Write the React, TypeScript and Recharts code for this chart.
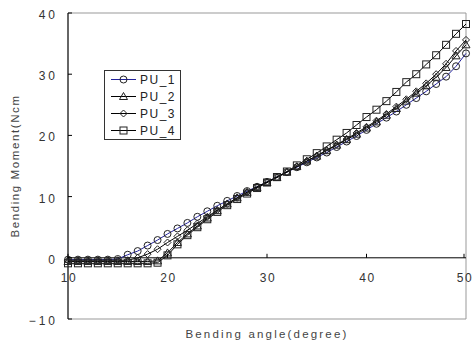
import { LineChart, Line, XAxis, YAxis, Legend, ReferenceLine, ReferenceArea } from "recharts";

const angles = [
  10, 11, 12, 13, 14, 15, 16, 17, 18, 19, 20, 21, 22, 23, 24, 25, 26, 27, 28, 29, 30,
  31, 32, 33, 34, 35, 36, 37, 38, 39, 40, 41, 42, 43, 44, 45, 46, 47, 48, 49, 50,
];

const pu1 = [
  -0.3, -0.3, -0.3, -0.3, -0.3, -0.2, 0.5, 1.1, 2.0, 2.9, 3.9, 4.8, 5.7, 6.7, 7.6, 8.5, 9.3, 10.1, 10.9, 11.6, 12.4,
  13.2, 14.0, 14.8, 15.6, 16.4, 17.2, 18.1, 19.0, 19.9, 20.9, 21.9, 22.9, 23.9, 25.0, 26.1, 27.2, 28.4, 29.6, 31.3, 33.4,
];
const pu2 = [
  -0.6, -0.6, -0.6, -0.6, -0.6, -0.6, -0.6, -0.6, -0.6, -0.5, 0.8, 2.5, 3.9, 5.2, 6.5, 7.7, 8.8, 9.8, 10.7, 11.5, 12.3,
  13.1, 14.0, 14.9, 15.8, 16.6, 17.5, 18.4, 19.3, 20.2, 21.2, 22.2, 23.3, 24.4, 25.6, 26.9, 28.1, 29.5, 31.1, 33.0, 34.8,
];
const pu3 = [
  -0.4, -0.4, -0.4, -0.4, -0.4, -0.4, -0.4, 0.0, 0.6, 1.4, 2.5, 3.5, 4.5, 5.6, 6.7, 7.8, 8.8, 9.8, 10.7, 11.6, 12.4,
  13.2, 14.0, 14.9, 15.8, 16.7, 17.6, 18.5, 19.4, 20.4, 21.4, 22.4, 23.5, 24.7, 25.9, 27.2, 28.5, 30.0, 31.7, 33.8, 35.6,
];
const pu4 = [
  -0.9, -0.9, -0.9, -0.9, -0.9, -0.9, -0.9, -0.9, -0.9, -0.8, 0.4, 2.2, 3.7, 5.0, 6.3, 7.5, 8.6, 9.6, 10.5, 11.4, 12.3,
  13.2, 14.1, 15.1, 16.1, 17.1, 18.2, 19.3, 20.4, 21.7, 23.0, 24.2, 25.6, 27.1, 28.7, 30.0, 31.6, 33.1, 34.8, 36.6, 38.2,
];

const xTicks = [10, 20, 30, 40, 50];
const yTicks = [-10, 0, 10, 20, 30, 40];

const Y_MIN = -10;
const Y_MAX = 40;
const CHART_W = 472;
const CHART_H = 342;
const TOP = 13;
const X_AXIS_H = 23;
const PLOT_H = CHART_H - TOP - X_AXIS_H;
const ZERO_UP = (PLOT_H * (0 - Y_MIN)) / (Y_MAX - Y_MIN);

const FONT = "'Liberation Sans', Arial, sans-serif";

const rows = angles.map((a, i) => ({
  angle: a,
  PU_1: pu1[i],
  PU_2: pu2[i],
  PU_3: pu3[i],
  PU_4: pu4[i],
}));

const shapes: Record<string, string> = {
  PU_1: "circle",
  PU_2: "triangle",
  PU_3: "diamond",
  PU_4: "square",
};

function Marker({ shape, cx, cy }: any) {
  const s = "#222";
  if (shape === "circle") return <circle cx={cx} cy={cy} r={3.5} fill="none" stroke={s} />;
  if (shape === "triangle")
    return (
      <polygon
        points={`${cx},${cy - 4} ${cx - 4},${cy + 3} ${cx + 4},${cy + 3}`}
        fill="none"
        stroke={s}
      />
    );
  if (shape === "diamond")
    return (
      <polygon
        points={`${cx},${cy - 3.5} ${cx + 3.5},${cy} ${cx},${cy + 3.5} ${cx - 3.5},${cy}`}
        fill="none"
        stroke={s}
      />
    );
  return <rect x={cx - 3.5} y={cy - 3.5} width={7} height={7} fill="none" stroke={s} />;
}

const makeDot = (shape: string) => (props: any) => (
  <Marker key={`d-${shape}-${props.index}`} shape={shape} cx={props.cx} cy={props.cy} />
);

const YTick = (props: any) => {
  const { x, y, payload } = props;
  const v = payload.value;
  const label = v < 0 ? `\u2212${Math.abs(v)}` : String(v);
  return (
    <g>
      <line x1={x} x2={x + 4} y1={y} y2={y} stroke="#000" />
      <text x={x - 10} y={y + 6} textAnchor="end" fontSize={12} letterSpacing={3} fill="#333" fontFamily={FONT}>
        {label}
      </text>
    </g>
  );
};

const XTick = (props: any) => {
  const { x, y, payload } = props;
  const y0 = y - ZERO_UP;
  return (
    <g>
      <line x1={x} x2={x} y1={y0} y2={y0 - 4} stroke="#000" />
      <text x={x + 1} y={y0 + 24} textAnchor="middle" fontSize={12} letterSpacing={1.5} fill="#333" fontFamily={FONT}>
        {payload.value}
      </text>
    </g>
  );
};

const YLabel = (props: any) => {
  const vb = props.viewBox;
  const cx = vb.x + 19;
  const cy = vb.y + vb.height / 2;
  return (
    <text
      x={cx}
      y={cy}
      transform={`rotate(-90 ${cx} ${cy})`}
      textAnchor="middle"
      fontSize={11.5}
      letterSpacing={1.6}
      fill="#444"
      fontFamily={FONT}
    >
      Bending Moment(Ncm
    </text>
  );
};

const renderLegend = (props: any) => {
  const { payload } = props;
  return (
    <div
      style={{
        border: "1px solid #333",
        background: "#fff",
        width: 75,
        fontFamily: FONT,
      }}
    >
      {payload.map((entry: any) => (
        <div key={entry.value} style={{ display: "flex", alignItems: "center", height: 17 }}>
          <svg width={35} height={17}>
            <line x1={6} x2={31} y1={8.5} y2={8.5} stroke={entry.color} />
            <Marker shape={shapes[entry.value]} cx={18.5} cy={8.5} />
          </svg>
          <span style={{ fontSize: 12, letterSpacing: 1.5, color: "#222" }}>{entry.value}</span>
        </div>
      ))}
    </div>
  );
};

export default function App() {
  return (
    <div style={{ position: "absolute", left: 0, top: 0, background: "#fff" }}>
      <LineChart width={CHART_W} height={CHART_H} data={rows} margin={{ top: TOP, right: 6, bottom: 0, left: 0 }}>
        <ReferenceArea x1={10} x2={50} y1={Y_MIN} y2={Y_MAX} fill="none" stroke="#999" ifOverflow="visible" />
        <XAxis
          type="number"
          dataKey="angle"
          domain={[10, 50]}
          ticks={xTicks}
          height={X_AXIS_H}
          axisLine={false}
          tickLine={false}
          tickSize={0}
          tickMargin={0}
          tick={<XTick />}
          label={{
            value: "Bending angle(degree)",
            position: "insideBottom",
            offset: 4,
            fontSize: 11.5,
            letterSpacing: 2.2,
            fill: "#444",
            fontFamily: FONT,
          }}
        />
        <YAxis
          type="number"
          domain={[Y_MIN, Y_MAX]}
          ticks={yTicks}
          width={68}
          axisLine={{ stroke: "#000" }}
          tickLine={false}
          tickSize={0}
          tickMargin={0}
          tick={<YTick />}
          label={<YLabel />}
        />
        <ReferenceLine y={0} stroke="#000" />
        <Legend
          content={renderLegend}
          layout="horizontal"
          verticalAlign="middle"
          align="center"
          wrapperStyle={{ left: 104, top: 70, width: "auto" }}
        />
        <Line type="linear" dataKey="PU_1" name="PU_1" stroke="#22229a" strokeWidth={1} dot={makeDot("circle")} isAnimationActive={false} />
        <Line type="linear" dataKey="PU_2" name="PU_2" stroke="#000" strokeWidth={1} dot={makeDot("triangle")} isAnimationActive={false} />
        <Line type="linear" dataKey="PU_3" name="PU_3" stroke="#000" strokeWidth={1} dot={makeDot("diamond")} isAnimationActive={false} />
        <Line type="linear" dataKey="PU_4" name="PU_4" stroke="#000" strokeWidth={1} dot={makeDot("square")} isAnimationActive={false} />
      </LineChart>
    </div>
  );
}
